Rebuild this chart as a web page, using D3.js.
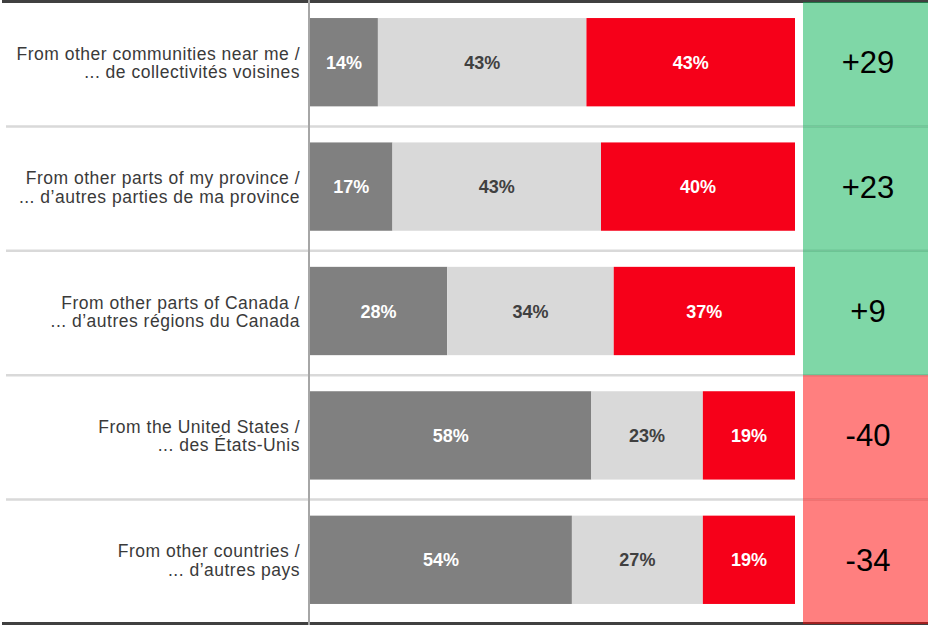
<!DOCTYPE html>
<html>
<head>
<meta charset="utf-8">
<script src="https://cdn.jsdelivr.net/npm/d3@7"></script>
<style>
  body { margin: 0; background: #fff; }
  text { font-family: Arial, "Liberation Sans", sans-serif; }
</style>
</head>
<body>
<script>
var width = 928;
var height = 625;

// categories, two label lines each
var labelsEn = ["From other communities near me /", "From other parts of my province /",
  "From other parts of Canada /", "From the United States /", "From other countries /"];
var labelsFr = ["... de collectivités voisines", "... d\u2019autres parties de ma province",
  "... d\u2019autres régions du Canada", "... des États-Unis", "... d\u2019autres pays"];

// series values (%)
var worse = [14, 17, 28, 58, 54];
var same = [43, 43, 34, 23, 27];
var better = [43, 40, 37, 19, 19];
var net = [29, 23, 9, -40, -34];

var seriesColors = ["#808080", "#d9d9d9", "#f60019"];
var seriesText = ["#ffffff", "#404040", "#ffffff"];

var svg = d3.select("body").append("svg")
  .attr("width", width).attr("height", height);

var y = d3.scaleBand()
  .domain(d3.range(labelsEn.length))
  .range([0, 622])
  .paddingInner(0.29)
  .paddingOuter(0.145);

var step = y.step();
function rowTop(i) { return y(i) - step * 0.145 + 2; }

// separators
svg.selectAll("line.sep").data(d3.range(1, labelsEn.length)).enter().append("line")
  .attr("x1", 6).attr("x2", width)
  .attr("y1", rowTop).attr("y2", rowTop)
  .style("stroke", "#d9d9d9").style("stroke-width", 2.5);

svg.append("line").attr("x1", 2).attr("x2", width).attr("y1", 1.5).attr("y2", 1.5)
  .style("stroke", "#404040").style("stroke-width", 3);
svg.append("line").attr("x1", 2).attr("x2", width).attr("y1", 623.5).attr("y2", 623.5)
  .style("stroke", "#404040").style("stroke-width", 3);

// bars
labelsEn.forEach(function (lab, i) {
  var vals = [worse[i], same[i], better[i]];
  var x = d3.scaleLinear().domain([0, d3.sum(vals)]).range([310, 795]);
  var cum = d3.cumsum(vals);
  var segs = vals.map(function (v, k) { return { v: v, x0: cum[k] - v, x1: cum[k], k: k }; });
  var g = svg.append("g");
  g.selectAll("rect").data(segs).enter().append("rect")
    .attr("x", function (d) { return x(d.x0); })
    .attr("width", function (d) { return x(d.x1) - x(d.x0); })
    .attr("y", y(i)).attr("height", y.bandwidth())
    .style("fill", function (d) { return seriesColors[d.k]; });
  g.selectAll("text").data(segs).enter().append("text")
    .attr("x", function (d) { return (x(d.x0) + x(d.x1)) / 2; })
    .attr("y", y(i) + y.bandwidth() / 2 + 6.5)
    .attr("text-anchor", "middle")
    .style("font-size", "18px").style("font-weight", "bold")
    .style("fill", function (d) { return seriesText[d.k]; })
    .text(function (d) { return d.v + "%"; });

  var cy = y(i) + y.bandwidth() / 2;
  var t = svg.append("text").attr("text-anchor", "end")
    .style("font-size", "17.5px").style("letter-spacing", "0.5px").style("fill", "#3a3a3a");
  t.append("tspan").attr("x", 300).attr("y", cy - 2.5).text(lab);
  t.append("tspan").attr("x", 300).attr("y", cy + 16).text(labelsFr[i]);
});

// net score column
svg.selectAll("rect.net").data(net).enter().append("rect")
  .attr("x", 803).attr("width", width - 803)
  .attr("y", function (d, i) { return rowTop(i); })
  .attr("height", step)
  .style("fill", function (d) { return d > 0 ? "#00b050" : "#ff0000"; })
  .style("opacity", 0.5);

svg.selectAll("text.net").data(net).enter().append("text")
  .attr("x", 868)
  .attr("y", function (d, i) { return y(i) + y.bandwidth() / 2 + 11; })
  .attr("text-anchor", "middle")
  .style("font-size", "31px").style("fill", "#000")
  .text(function (d) { return (d > 0 ? "+" : "") + d; });

// vertical axis
svg.append("line").attr("x1", 309).attr("x2", 309).attr("y1", 0).attr("y2", height)
  .style("stroke", "#a6a6a6").style("stroke-width", 2);
</script>
</body>
</html>
